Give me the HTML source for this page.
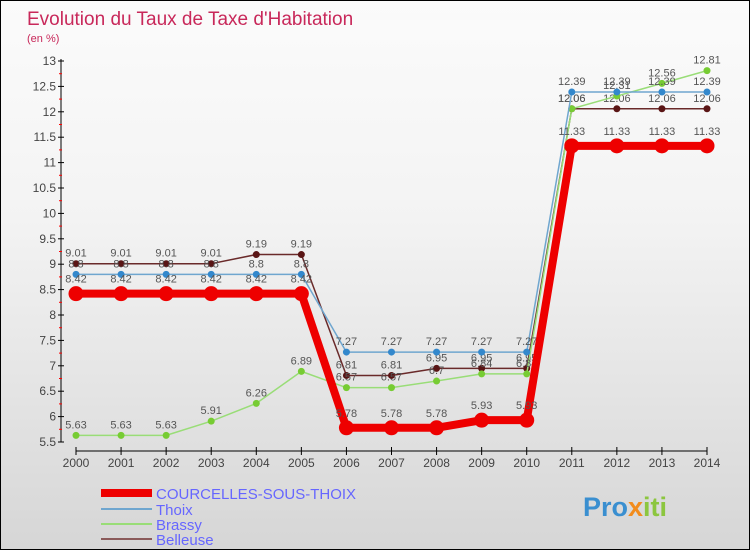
<!DOCTYPE html>
<html><head><meta charset="utf-8"><style>
body{margin:0}
#c{width:750px;height:550px;position:relative;box-sizing:border-box;border:1px solid #000;background:linear-gradient(#fbfbfb,#f3f3f3 40%,#d6d6d6);font-family:"Liberation Sans",sans-serif;overflow:hidden}
</style></head><body>
<div id="c">
<svg width="748" height="548" id="s" style="position:absolute;left:0;top:0">
<text x="26" y="24" font-size="19" fill="#c8285a">Evolution du Taux de Taxe d'Habitation</text>
<text x="26" y="41" font-size="11" fill="#c8285a">(en %)</text>
<g id="axes"></g><g id="series"></g><g id="legend"></g>
<text x="582" y="515" font-size="27" font-weight="bold" fill="#3a8fd0">Pro<tspan fill="#f28c1c">x</tspan><tspan fill="#8cc63f">iti</tspan></text>
</svg>
</div>
<script>
const years=[2000,2001,2002,2003,2004,2005,2006,2007,2008,2009,2010,2011,2012,2013,2014];
const courcelles=[8.42,8.42,8.42,8.42,8.42,8.42,5.78,5.78,5.78,5.93,5.93,11.33,11.33,11.33,11.33];
const thoix=[8.8,8.8,8.8,8.8,8.8,8.8,7.27,7.27,7.27,7.27,7.27,12.39,12.39,12.39,12.39];
const brassy=[5.63,5.63,5.63,5.91,6.26,6.89,6.57,6.57,6.7,6.84,6.84,12.06,12.31,12.56,12.81];
const belleuse=[9.01,9.01,9.01,9.01,9.19,9.19,6.81,6.81,6.95,6.95,6.95,12.06,12.06,12.06,12.06];
const yTicks=[5.5,6,6.5,7,7.5,8,8.5,9,9.5,10,10.5,11,11.5,12,12.5,13];
const seriesNames=["COURCELLES-SOUS-THOIX","Thoix","Brassy","Belleuse"];
const NS="http://www.w3.org/2000/svg";
const x=i=>75+i*(706-75)/(years.length-1);
const y=v=>441-(v-5.5)*(441-60)/7.5;
function mk(t,a,p){const e=document.createElementNS(NS,t);for(const k in a)e.setAttribute(k,a[k]);p.appendChild(e);return e;}
const ax=document.getElementById('axes');
let e=mk('line',{x1:60,y1:58,x2:60,y2:441,stroke:'#000'},ax);


yTicks.forEach(v=>{
 mk('line',{x1:57,y1:y(v),x2:63,y2:y(v),stroke:'#000'},ax);
 if(v<13) mk('line',{x1:58,y1:y(v+0.25),x2:61,y2:y(v+0.25),stroke:'#f00'},ax);
 const t=mk('text',{x:55,y:y(v)+4,'font-size':12,fill:'#444','text-anchor':'end'},ax);t.textContent=String(v);
 
 
});
e=mk('line',{x1:75,y1:450,x2:706,y2:450,stroke:'#000'},ax);


years.forEach((yr,i)=>{
 mk('line',{x1:x(i),y1:446,x2:x(i),y2:454,stroke:'#000'},ax);
 const t=mk('text',{x:x(i),y:466,'font-size':12,fill:'#444','text-anchor':'middle'},ax);t.textContent=yr;
 
 
});
const sg=document.getElementById('series');
const defs=[[belleuse,'#6a2a2a','#5a1515',1.5,3.5,'belleuse'],[brassy,'#99dd77','#77cc33',1.5,3.5,'brassy'],[thoix,'#6fa6cf','#3388cc',1.5,3.5,'thoix'],[courcelles,'#ee0000','#ee0000',8,7.5,'courcelles']];
defs.forEach(([d,lc,pc,w,r,n])=>{
 const g=mk('g',{},sg);
 
 
 const pl=mk('polyline',{points:d.map((v,i)=>x(i)+','+y(v)).join(' '),fill:'none',stroke:lc,'stroke-width':w,'stroke-linejoin':'round'},g);
 
 
 d.forEach((v,i)=>{
  const c=mk('circle',{cx:x(i),cy:y(v),r:r,fill:pc},g);
  
  
  const t=mk('text',{x:x(i),y:y(v)-7-(r>4?4:0),'font-size':11,fill:'#555','text-anchor':'middle'},g);t.textContent=String(v);
  
  
 });
});
const lg=document.getElementById('legend');
const lcol=['#ee0000','#6fa6cf','#99dd77','#8a5a5a'],lw=[8,2,2,2],ly=[492,508,523,538];
seriesNames.forEach((n,i)=>{
 const g=mk('g',{},lg);
 
 
 mk('line',{x1:100,y1:ly[i],x2:151,y2:ly[i],stroke:lcol[i],'stroke-width':lw[i]},g);
 const t=mk('text',{x:155,y:ly[i]+6,'font-size':15,fill:'#6666ff'},g);t.textContent=n;
});
</script>
</body></html>
